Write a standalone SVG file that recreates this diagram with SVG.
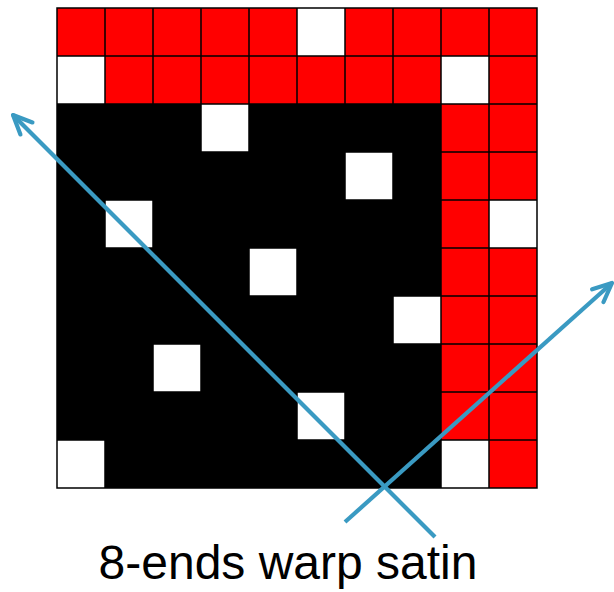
<svg xmlns="http://www.w3.org/2000/svg" width="614" height="592" viewBox="0 0 614 592">
<defs>
<style>
.r{fill:#ff0000}
.w{fill:#ffffff}
.k{fill:#000000}
.grid{stroke:#000;stroke-width:1.5;fill:none}
.conn{stroke:#3a9ac2;stroke-width:4.2;fill:none;stroke-linecap:butt}
.lbl{font-family:"Liberation Sans",Arial,sans-serif;font-size:48px;fill:#000}
</style>
<marker id="arr" viewBox="0 0 12 12" refX="10" refY="6" markerWidth="12" markerHeight="12" markerUnits="userSpaceOnUse" orient="auto" overflow="visible">
<path d="M-19,-8.5 L0,0 L-19,8.5" transform="translate(10,6)" stroke="#3a9ac2" stroke-width="4.2" fill="none" stroke-linecap="round" stroke-linejoin="round"/>
</marker>
</defs>
<rect x="0" y="0" width="614" height="592" fill="#fff"/>
<g id="weave">
<rect class="r" x="57" y="8" width="480" height="96"/>
<rect class="k" x="57" y="104" width="384" height="384"/>
<rect class="r" x="441" y="104" width="96" height="384"/>
<rect class="w" x="297" y="8" width="48" height="48"/>
<rect class="w" x="57" y="56" width="48" height="48"/>
<rect class="w" x="441" y="56" width="48" height="48"/>
<rect class="w" x="201" y="104" width="48" height="48"/>
<rect class="w" x="345" y="152" width="48" height="48"/>
<rect class="w" x="105" y="200" width="48" height="48"/>
<rect class="w" x="489" y="200" width="48" height="48"/>
<rect class="w" x="249" y="248" width="48" height="48"/>
<rect class="w" x="393" y="296" width="48" height="48"/>
<rect class="w" x="153" y="344" width="48" height="48"/>
<rect class="w" x="297" y="392" width="48" height="48"/>
<rect class="w" x="57" y="440" width="48" height="48"/>
<rect class="w" x="441" y="440" width="48" height="48"/>
<path class="grid" d="M57,8H537V488H57Z M57,56H537 M57,104H537 M57,152H537 M57,200H537 M57,248H537 M57,296H537 M57,344H537 M57,392H537 M57,440H537 M105,8V488 M153,8V488 M201,8V488 M249,8V488 M297,8V488 M345,8V488 M393,8V488 M441,8V488 M489,8V488"/>
</g>
<g id="connectors">
<line class="conn" x1="435" y1="537" x2="13" y2="115" marker-end="url(#arr)"/>
<line class="conn" x1="345" y1="522" x2="612" y2="283" marker-end="url(#arr)"/>
</g>
<g id="label">
<text class="lbl" x="288" y="579" text-anchor="middle">8-ends warp satin</text>
</g>
</svg>
